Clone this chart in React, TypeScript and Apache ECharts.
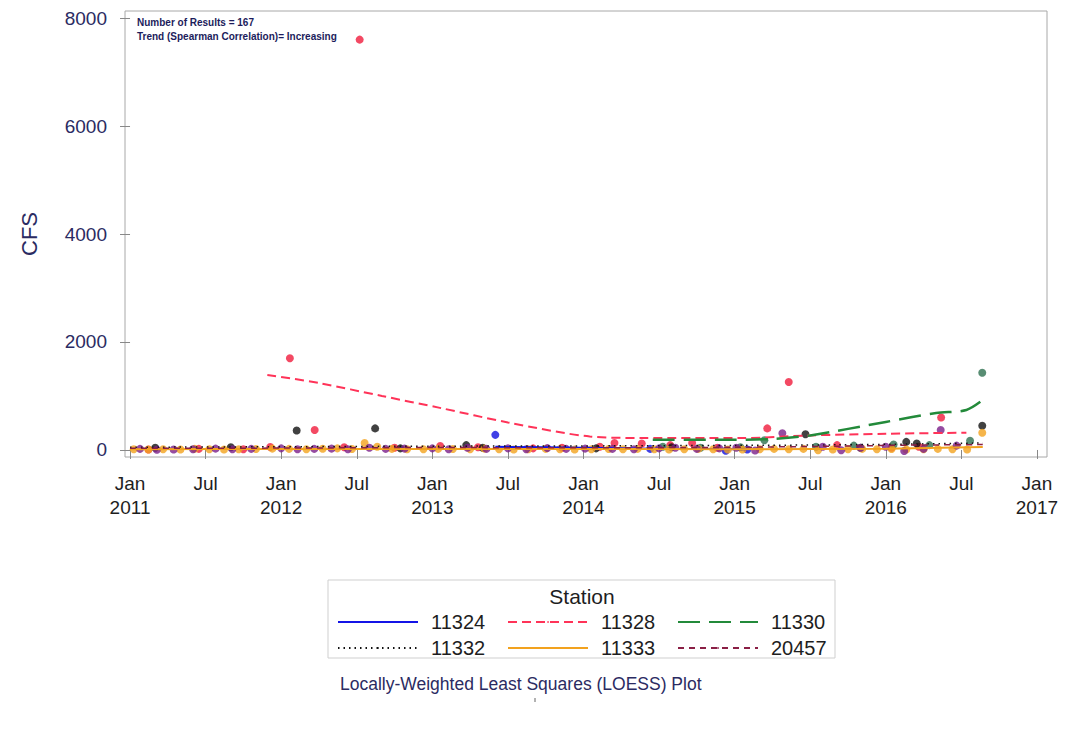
import React, { useEffect, useRef } from "react";
import * as echarts from "echarts";

// ---------- DATA ----------
const STATIONS = ["11324", "11328", "11330", "11332", "11333", "20457"];
const X_TICKS = [0, 6, 12, 18, 24, 30, 36, 42, 48, 54, 60, 66, 72]; // months since Jan 2011
const Y_TICKS = [0, 2000, 4000, 6000, 8000];

// observed points [date, CFS]
const PTS_11324: [string, number][] = [
  ["2013-06-01", 280], ["2014-06-10", 20], ["2014-12-10", -15], ["2015-02-01", 10],
];
const PTS_11328: [string, number][] = [
  ["2011-02-15", 10], ["2011-06-15", 20], ["2011-10-01", 15], ["2011-12-05", 55],
  ["2012-01-22", 1700], ["2012-03-21", 370], ["2012-06-01", 50], ["2012-07-08", 7600],
  ["2012-10-01", 40], ["2013-01-20", 75], ["2013-04-20", 50], ["2013-09-01", 30],
  ["2013-11-10", 40], ["2014-02-10", 60], ["2014-03-15", 130], ["2014-05-20", 120],
  ["2014-07-28", 90], ["2014-09-20", 130], ["2014-11-20", 40], ["2015-03-19", 400],
  ["2015-05-10", 1260], ["2015-09-05", 90], ["2016-01-15", 40], ["2016-03-20", 60],
  ["2016-05-13", 600],
];
const PTS_11330: [string, number][] = [
  ["2014-07-10", 60], ["2014-10-10", 40], ["2015-01-15", 50], ["2015-03-12", 180],
  ["2015-07-15", 60], ["2015-10-15", 80], ["2016-01-20", 100], ["2016-04-15", 90],
  ["2016-07-22", 170], ["2016-08-21", 1430],
];
const PTS_11332: [string, number][] = [
  ["2011-03-01", 40], ["2011-09-01", 50], ["2012-02-08", 360], ["2012-08-15", 400],
  ["2012-10-15", 30], ["2013-03-22", 90], ["2013-05-01", 40], ["2014-02-01", 30],
  ["2014-08-01", 50], ["2015-06-20", 290], ["2015-11-01", 40], ["2016-02-20", 150],
  ["2016-03-15", 120], ["2016-08-21", 450],
];
const PTS_11333: [string, number][] = [
  ["2011-01-10", 15], ["2011-02-15", 10], ["2011-03-20", 12], ["2011-05-01", 8],
  ["2011-06-05", 20], ["2011-07-10", 15], ["2011-08-15", 10], ["2011-09-20", 12],
  ["2011-11-01", 18], ["2011-12-10", 25], ["2012-01-20", 20], ["2012-03-01", 15],
  ["2012-04-10", 22], ["2012-05-15", 30], ["2012-06-20", 18], ["2012-07-20", 130],
  ["2012-08-20", 60], ["2012-09-25", 20], ["2012-11-01", 15], ["2012-12-10", 12],
  ["2013-01-15", 20], ["2013-02-20", 18], ["2013-04-01", 15], ["2013-05-05", 25],
  ["2013-06-10", 15], ["2013-07-15", 10], ["2013-08-20", 12], ["2013-10-01", 20],
  ["2013-11-05", 15], ["2013-12-10", 10], ["2014-01-20", 12], ["2014-03-01", 18],
  ["2014-04-05", 15], ["2014-05-10", 20], ["2014-06-20", 12], ["2014-07-25", 10],
  ["2014-09-01", 15], ["2014-10-05", 20], ["2014-11-10", 12], ["2014-12-15", 8],
  ["2015-01-20", 10], ["2015-03-01", 15], ["2015-04-05", 20], ["2015-05-10", 15],
  ["2015-06-15", 20], ["2015-07-20", -5], ["2015-08-25", 10], ["2015-10-01", 15],
  ["2015-11-05", 20], ["2015-12-10", 12], ["2016-01-15", 18], ["2016-02-20", 10],
  ["2016-04-01", 15], ["2016-05-05", 20], ["2016-06-10", 15], ["2016-07-15", 10],
  ["2016-08-21", 320],
];
const PTS_20457: [string, number][] = [
  ["2011-01-25", 20], ["2011-03-05", 5], ["2011-04-15", 10], ["2011-06-01", 12],
  ["2011-07-25", 25], ["2011-09-05", 15], ["2011-10-20", 20], ["2012-01-01", 30],
  ["2012-02-10", 15], ["2012-03-20", 20], ["2012-05-01", 25], ["2012-06-10", 15],
  ["2012-08-01", 40], ["2012-09-10", 20], ["2012-10-25", 25], ["2013-01-01", 30],
  ["2013-02-10", 15], ["2013-03-25", 40], ["2013-05-10", 20], ["2013-07-01", 30],
  ["2013-08-15", 15], ["2013-10-05", 35], ["2013-11-20", 20], ["2014-01-05", 25],
  ["2014-03-10", 20], ["2014-05-01", 15], ["2014-07-01", 30], ["2014-08-10", 40],
  ["2014-10-01", 20], ["2014-11-25", 30], ["2015-01-05", 40], ["2015-02-20", -10],
  ["2015-04-25", 310], ["2015-08-01", 60], ["2015-09-15", -5], ["2015-11-01", 40],
  ["2016-01-01", 60], ["2016-02-15", -20], ["2016-04-01", 20], ["2016-05-12", 370],
  ["2016-06-20", 80],
];

// LOESS curves [month since Jan 2011, CFS]
const LOESS_11324: [number, number][] = [[29, 60], [36, 40], [44, 20], [49, 15]];
const LOESS_11328: [number, number][] = [
  [10.9, 1390], [15, 1240], [20, 1000], [24.6, 780], [30, 510], [36.5, 250],
  [40.7, 222], [48.4, 220], [54, 270], [60, 300], [66.4, 320],
];
const LOESS_11330: [number, number][] = [
  [41.5, 190], [48, 190], [51, 205], [54, 270], [60, 520], [64, 685], [66.4, 740], [67.7, 925],
];
const LOESS_11332: [number, number][] = [
  [0, 50], [12, 60], [24, 70], [36, 75], [48, 85], [56, 95], [62, 110], [67.7, 130],
];
const LOESS_11333: [number, number][] = [
  [0, 15], [12, 18], [24, 20], [36, 18], [48, 15], [60, 25], [67.7, 55],
];
const LOESS_20457: [number, number][] = [
  [0, 30], [12, 35], [24, 45], [36, 40], [48, 50], [56, 70], [62, 90], [67.7, 100],
];

// ---------- HELPERS ----------
const toM = (d: string) => {
  const [y, m, day] = d.split("-").map(Number);
  return (y - 2011) * 12 + (m - 1) + (day - 1) / 30.4;
};
const pts = (arr: [string, number][]) => arr.map(([d, v]) => [toM(d), v]);

const FONT = "Liberation Sans, Arial, sans-serif";
const NAVY = "#2b2b62";

export default function App() {
  const ref = useRef<HTMLDivElement>(null);

  useEffect(() => {
    if (!ref.current) return;
    const chart = echarts.init(ref.current, null, { renderer: "svg" });

    const lineColors = ["#1414e6", "#ff3358", "#238a3a", "#111111", "#f2a21e", "#8a1f45"];
    const lineTypes: any[] = ["solid", [9, 5], [22, 9], [1.5, 4], "solid", [6, 5]];
    const lineWidths = [2, 2, 2.5, 1.5, 2, 1.5];
    const loess = [LOESS_11324, LOESS_11328, LOESS_11330, LOESS_11332, LOESS_11333, LOESS_20457];
    const pointSets = [PTS_11324, PTS_11328, PTS_11330, PTS_11332, PTS_11333, PTS_20457];
    const pointColors = ["#1010e0", "#f01c3c", "#2e7050", "#111111", "#f2a21e", "#7a1f8a"];

    const lineSeries = STATIONS.map((s, i) => ({
      name: s,
      type: "line",
      data: loess[i],
      symbol: "none",
      smooth: 0.3,
      z: 5,
      color: lineColors[i],
      lineStyle: { color: lineColors[i], type: lineTypes[i], width: lineWidths[i] },
    }));
    const scatterSeries = STATIONS.map((s, i) => ({
      name: s + " obs",
      type: "scatter",
      data: pts(pointSets[i]),
      symbol: "circle",
      symbolSize: 8,
      z: 3,
      itemStyle: { color: pointColors[i] },
    }));

    chart.setOption({
      animation: false,
      backgroundColor: "#ffffff",
      textStyle: { fontFamily: FONT },
      grid: {
        left: 125,
        right: 20,
        top: 11,
        bottom: 272,
        show: true,
        borderColor: "#a8a8a8",
        borderWidth: 1,
        backgroundColor: "#ffffff",
      },
      xAxis: {
        type: "value",
        min: -0.4,
        max: 72.8,
        axisLine: { show: false },
        splitLine: { show: false },
        axisTick: {
          show: true,
          length: 9,
          customValues: X_TICKS,
          lineStyle: { color: "#888" },
        },
        axisLabel: {
          customValues: X_TICKS,
          margin: 14,
          fontSize: 19,
          lineHeight: 24,
          color: "#1e1e1e",
          fontFamily: FONT,
          formatter: (v: number) =>
            Math.round(v) % 12 === 0 ? `Jan\n${2011 + Math.round(v) / 12}` : "Jul",
        },
      },
      yAxis: {
        type: "value",
        min: -130,
        max: 8130,
        name: "CFS",
        nameLocation: "middle",
        nameGap: 85,
        nameTextStyle: { fontSize: 22, color: NAVY, fontFamily: FONT },
        axisLine: { show: false },
        splitLine: { show: false },
        axisTick: {
          show: true,
          length: 10,
          customValues: Y_TICKS,
          lineStyle: { color: "#888" },
        },
        axisLabel: {
          customValues: Y_TICKS,
          margin: 18,
          fontSize: 19,
          color: NAVY,
          fontFamily: FONT,
          formatter: (v: number) => String(Math.round(v)),
        },
      },
      legend: {
        data: STATIONS,
        left: 332,
        top: 607,
        width: 520,
        orient: "horizontal",
        itemWidth: 80,
        itemHeight: 2,
        itemGap: 6,
        textStyle: {
          fontSize: 20,
          lineHeight: 19,
          color: "#1e1e1e",
          fontFamily: FONT,
          width: 70,
          padding: [0, 0, 0, 8],
        },
      },
      graphic: [
        {
          type: "text",
          left: 137,
          top: 17,
          style: {
            text: "Number of Results = 167",
            fontSize: 10,
            fontWeight: "bold",
            fill: "#1c1c5c",
            fontFamily: FONT,
          },
        },
        {
          type: "text",
          left: 137,
          top: 31,
          style: {
            text: "Trend (Spearman Correlation)= Increasing",
            fontSize: 10,
            fontWeight: "bold",
            fill: "#1c1c5c",
            fontFamily: FONT,
          },
        },
        {
          type: "rect",
          shape: { x: 328, y: 580, width: 507, height: 78 },
          style: { fill: "none", stroke: "#cfcfcf", lineWidth: 1 },
          z: -1,
        },
        {
          type: "text",
          x: 582,
          y: 596,
          style: {
            text: "Station",
            fontSize: 21,
            fill: "#1e1e1e",
            fontFamily: FONT,
            align: "center",
            verticalAlign: "middle",
          },
        },
        {
          type: "text",
          x: 340,
          y: 684,
          style: {
            text: "Locally-Weighted Least Squares (LOESS) Plot",
            fontSize: 17.5,
            fill: NAVY,
            fontFamily: FONT,
            verticalAlign: "middle",
          },
        },
        {
          type: "line",
          shape: { x1: 535, y1: 698, x2: 535, y2: 702 },
          style: { stroke: "#666", lineWidth: 1 },
        },
      ],
      series: [...scatterSeries, ...lineSeries],
    });

    return () => chart.dispose();
  }, []);

  return (
    <div
      ref={ref}
      style={{ position: "fixed", left: 0, top: 0, width: 1067, height: 729, background: "#fff" }}
    />
  );
}
